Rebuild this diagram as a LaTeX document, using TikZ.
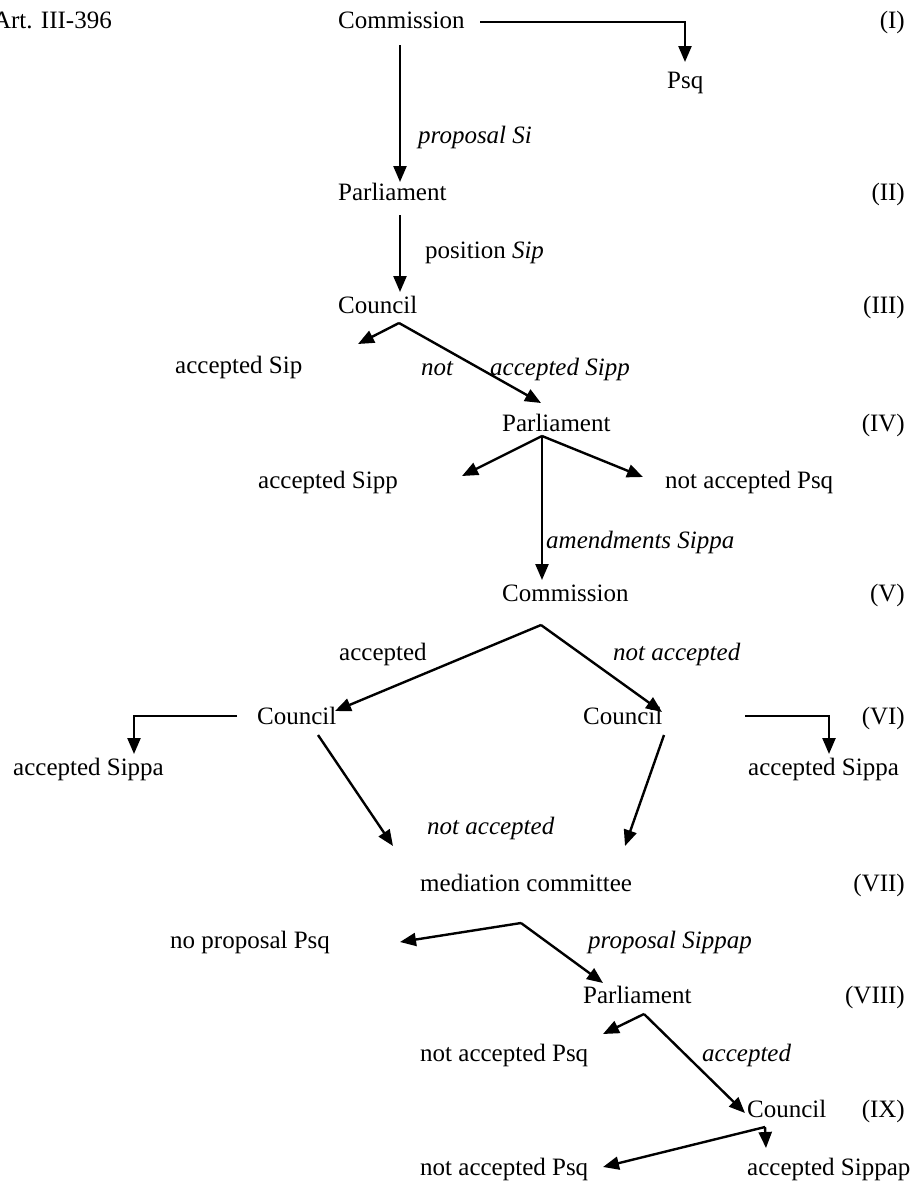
\documentclass[tikz,border=0pt]{standalone}
\usepackage{fontspec}
\setmainfont{Liberation Serif}
\usetikzlibrary{arrows.meta}
\begin{document}
\begin{tikzpicture}[x=1pt,y=-1pt,
  lab/.style={inner sep=0pt,anchor=base west,font=\fontsize{25}{30}\selectfont},
  rlab/.style={lab,anchor=base east},
  ilab/.style={lab,font=\fontsize{25}{30}\selectfont\itshape},
  arr/.style={line width=2.4pt,-{Triangle[length=16pt,width=13pt]}},
  ln/.style={line width=2.4pt}]
\useasboundingbox[fill=white] (0,0) rectangle (916,1184);
% stage labels
\node[rlab] (art) at (112,28) {Art. III-396};
\node[rlab] (r1) at (905,28) {(I)};
\node[rlab] (r2) at (905,200) {(II)};
\node[rlab] (r3) at (905,313) {(III)};
\node[rlab] (r4) at (905,431) {(IV)};
\node[rlab] (r5) at (905,601) {(V)};
\node[rlab] (r6) at (905,724) {(VI)};
\node[rlab] (r7) at (905,891) {(VII)};
\node[rlab] (r8) at (905,1003) {(VIII)};
\node[rlab] (r9) at (905,1117) {(IX)};
% actors
\node[lab] (com1) at (338,28) {Commission};
\node[lab] (psq1) at (667,88) {Psq};
\node[lab] (par1) at (338,200) {Parliament};
\node[lab] (cou1) at (338,313) {Council};
\node[lab] (par2) at (502,431) {Parliament};
\node[lab] (com2) at (502,601) {Commission};
\node[lab] (cou2) at (257,724) {Council};
\node[lab] (cou3) at (583,724) {Council};
\node[lab] (med) at (420,891) {mediation committee};
\node[lab] (par3) at (583,1003) {Parliament};
\node[lab] (cou4) at (747,1117) {Council};
% outcomes
\node[lab] (accSip) at (175,373) {accepted Sip};
\node[lab] (accSipp) at (258,488) {accepted Sipp};
\node[lab] (nacc1) at (665,488) {not accepted Psq};
\node[lab] (accSippa1) at (13,775) {accepted Sippa};
\node[lab] (accSippa2) at (748,775) {accepted Sippa};
\node[lab] (noprop) at (170,948) {no proposal Psq};
\node[lab] (nacc2) at (420,1061) {not accepted Psq};
\node[lab] (nacc3) at (420,1175) {not accepted Psq};
\node[lab] (accSippap) at (747,1175) {accepted Sippap};
% edge labels
\node[ilab] (l1) at (418,143) {proposal Si};
\node[lab] (l2) at (425,258) {position \textit{Sip}};
\node[ilab] (l3a) at (421,375) {not};
\node[ilab] (l3b) at (490,375) {accepted Sipp};
\node[ilab] (l4) at (546,548) {amendments Sippa};
\node[lab] (l5) at (339,660) {accepted};
\node[ilab] (l6) at (613,660) {not accepted};
\node[ilab] (l7) at (427,834) {not accepted};
\node[ilab] (l8) at (588,948) {proposal Sippap};
\node[ilab] (l9) at (702,1061) {accepted};
% connector end points
\coordinate (a1) at (480,22);   \coordinate (t1) at (685,62);
\coordinate (a2) at (400,45);   \coordinate (t2) at (400,182);
\coordinate (a3) at (400,215);  \coordinate (t3) at (400,292);
\coordinate (a4) at (399,323);  \coordinate (t4a) at (358,344); \coordinate (t4b) at (541,403);
\coordinate (a5) at (542,436);  \coordinate (t5a) at (462,476); \coordinate (t5b) at (643,477); \coordinate (t5c) at (542,580);
\coordinate (a6) at (541,625);  \coordinate (t6a) at (335,711); \coordinate (t6b) at (662,712);
\coordinate (a7) at (237,716);  \coordinate (t7) at (134,754);
\coordinate (a8) at (745,716);  \coordinate (t8) at (829,754);
\coordinate (a9) at (318,735);  \coordinate (t9) at (393,846);
\coordinate (a10) at (664,735); \coordinate (t10) at (625,846);
\coordinate (a11) at (521,923); \coordinate (t11a) at (400,942); \coordinate (t11b) at (603,983);
\coordinate (a12) at (644,1014); \coordinate (t12a) at (603,1034); \coordinate (t12b) at (745,1113);
\coordinate (a13) at (765,1127); \coordinate (t13a) at (603,1167); \coordinate (t13b) at (766,1148);
% connectors
\draw[arr] (a1) -| (t1);
\draw[arr] (a2) -- (t2);
\draw[arr] (a3) -- (t3);
\draw[arr] (a4) -- (t4a);
\draw[arr] (a4) -- (t4b);
\draw[arr] (a5) -- (t5a);
\draw[arr] (a5) -- (t5b);
\draw[arr] (a5) -- (t5c);
\draw[arr] (a6) -- (t6a);
\draw[arr] (a6) -- (t6b);
\draw[arr] (a7) -| (t7);
\draw[arr] (a8) -| (t8);
\draw[arr] (a9) -- (t9);
\draw[arr] (a10) -- (t10);
\draw[arr] (a11) -- (t11a);
\draw[arr] (a11) -- (t11b);
\draw[arr] (a12) -- (t12a);
\draw[arr] (a12) -- (t12b);
\draw[arr] (a13) -- (t13a);
\draw[arr] (a13) -- (t13b);
\end{tikzpicture}
\end{document}
